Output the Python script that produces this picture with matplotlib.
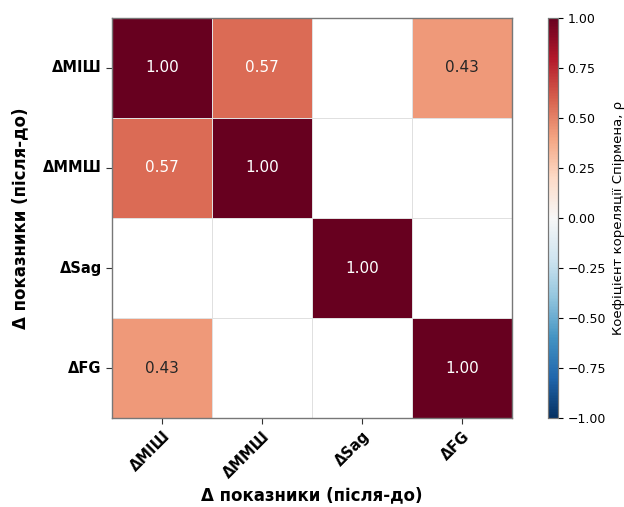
import numpy as np
import matplotlib
matplotlib.use("Agg")
import matplotlib.pyplot as plt
import seaborn as sns

# Змінні та коефіцієнти Спірмена (NaN = незначущі, не показуються)
labels = ["ΔMIШ", "ΔMMШ", "ΔSag", "ΔFG"]
row_miш = [1.00, 0.57, np.nan, 0.43]
row_mmш = [0.57, 1.00, np.nan, np.nan]
row_sag = [np.nan, np.nan, 1.00, np.nan]
row_fg = [0.43, np.nan, np.nan, 1.00]

corr = np.array([row_miш, row_mmш, row_sag, row_fg])
mask = np.isnan(corr)
cbar_ticks = np.linspace(-1, 1, 9)

fig = plt.figure(figsize=(6.24, 5.07), dpi=100)
ax = fig.add_axes([0.18, 0.175, 0.64, 0.79])
cax = fig.add_axes([0.878, 0.175, 0.016, 0.79])

sns.heatmap(corr, mask=mask, cmap="RdBu_r", vmin=-1, vmax=1,
            annot=True, fmt=".2f", annot_kws={"size": 11},
            linewidths=0.5, linecolor="#e0e0e0", square=False,
            xticklabels=labels, yticklabels=labels,
            ax=ax, cbar_ax=cax,
            cbar_kws={"ticks": cbar_ticks})

for s in ax.spines.values():
    s.set_visible(True)
    s.set_color("#777777")
    s.set_linewidth(1.0)
cax.tick_params(labelsize=9)
cax.set_yticklabels([f"{t:.2f}".replace("-", "\u2212") for t in cbar_ticks])
cax.set_ylabel("Коефіцієнт кореляції Спірмена, ρ", fontsize=9.5, labelpad=4)
for s in cax.spines.values():
    s.set_visible(True)
    s.set_color("#777777")
    s.set_linewidth(0.8)

ax.set_xticklabels(labels, rotation=45, ha="right", rotation_mode="anchor",
                   fontsize=10.5, fontweight="bold")
ax.set_yticklabels(labels, rotation=0, fontsize=10.5, fontweight="bold")
ax.tick_params(length=4, width=0.8, color="#333333")

ax.set_xlabel("Δ показники (після-до)", fontsize=12, fontweight="bold", labelpad=4)
ax.set_ylabel("Δ показники (після-до)", fontsize=12, fontweight="bold", labelpad=10)

fig.savefig("out.png", dpi=100)
